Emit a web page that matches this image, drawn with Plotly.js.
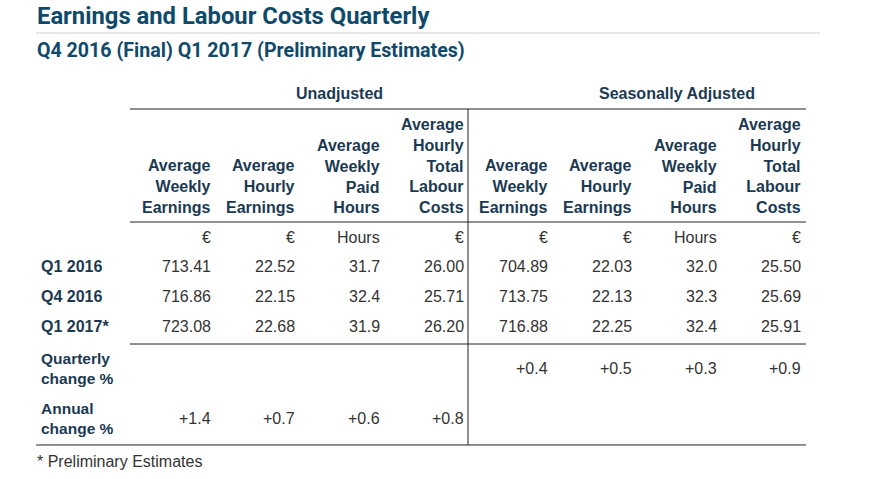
<!DOCTYPE html>
<html><head><meta charset="utf-8">
<script src="https://cdn.plot.ly/plotly-3.0.1.min.js"></script>
<style>html,body{margin:0;padding:0;background:#fff}#chart{width:877px;height:479px}</style>
</head><body><div id="chart"></div>
<script>
// ---- data ----
const title = 'Earnings and Labour Costs Quarterly';
const subtitle = 'Q4 2016 (Final) Q1 2017 (Preliminary Estimates)';
const groups = ['Unadjusted', 'Seasonally Adjusted'];
const measures = ['Average<br>Weekly<br>Earnings', 'Average<br>Hourly<br>Earnings', 'Average<br>Weekly<br>Paid<br>Hours', 'Average<br>Hourly<br>Total<br>Labour<br>Costs'];
const units = ['€', '€', 'Hours', '€'];
const decimals = [2, 2, 1, 2];
const periods = ['Q1 2016', 'Q4 2016', 'Q1 2017*'];
const unadjWeeklyEarnings = [713.41, 716.86, 723.08];
const unadjHourlyEarnings = [22.52, 22.15, 22.68];
const unadjWeeklyHours = [31.7, 32.4, 31.9];
const unadjLabourCosts = [26.00, 25.71, 26.20];
const saWeeklyEarnings = [704.89, 713.75, 716.88];
const saHourlyEarnings = [22.03, 22.13, 22.25];
const saWeeklyHours = [32.0, 32.3, 32.4];
const saLabourCosts = [25.50, 25.69, 25.91];
const changeLabels = ['Quarterly<br>change %', 'Annual<br>change %'];
const saQuarterlyChange = [0.4, 0.5, 0.3, 0.9];
const unadjAnnualChange = [1.4, 0.7, 0.6, 0.8];
const footnote = '* Preliminary Estimates';

// ---- layout / styling ----
const navy = '#0f4a6b', dark = '#1b3a52', grey = '#333333';
const tblFont = '"Liberation Sans", Arial, sans-serif';
const ttlFont = 'Roboto, "Liberation Sans", sans-serif';
const unadjCols = [unadjWeeklyEarnings, unadjHourlyEarnings, unadjWeeklyHours, unadjLabourCosts];
const saCols = [saWeeklyEarnings, saHourlyEarnings, saWeeklyHours, saLabourCosts];
const labelX = -0.065, firstCol = 2;      // column positions on x axis
const unitsRow = 0, firstRow = 1;         // row positions on y axis
const qRow = 4.38, aRow = 6.05;
const headerBottom = -0.63, groupY = -4.8;
const ruleTop = -4.267, ruleHead = -0.5, ruleBody = 3.567, ruleBottom = 6.933;
const tableL = 1.0154, tableR = 9.034, outerL = -0.0996, splitX = 5.025;

const ann = [];
const fmt = (v, d) => v.toFixed(d);
const sgn = v => (v >= 0 ? '+' : '') + v.toFixed(1);
const bold = (size) => ({family: tblFont, size: size, color: dark, weight: 700});
function cell(x, y, text, opts) {
  ann.push(Object.assign({xref: 'x', yref: 'y', x: x, y: y, text: text, showarrow: false,
    xanchor: 'right', yanchor: 'middle', align: 'right',
    font: {family: tblFont, size: 16, color: grey, weight: 400}}, opts || {}));
}
// group headers
groups.forEach((g, gi) => {
  const c0 = firstCol + gi * 4;
  cell(c0 + 1.5, groupY, g, {xanchor: 'center', align: 'center', font: bold(16)});
});
// measure headers + units
[0, 1].forEach(gi => {
  measures.forEach((m, mi) => {
    const x = firstCol + gi * 4 + mi;
    cell(x, headerBottom, m, {yanchor: 'bottom', font: bold(16)});
    cell(x, unitsRow, units[mi]);
  });
});
// period rows
periods.forEach((p, ri) => {
  const y = firstRow + ri;
  cell(labelX, y, p, {xanchor: 'left', align: 'left', font: bold(16)});
  unadjCols.forEach((col, ci) => cell(firstCol + ci, y, fmt(col[ri], decimals[ci])));
  saCols.forEach((col, ci) => cell(firstCol + 4 + ci, y, fmt(col[ri], decimals[ci])));
});
// change rows
cell(labelX, qRow, changeLabels[0], {xanchor: 'left', align: 'left', font: bold(15.5)});
cell(labelX, aRow, changeLabels[1], {xanchor: 'left', align: 'left', font: bold(15.5)});
saQuarterlyChange.forEach((v, ci) => cell(firstCol + 4 + ci, qRow, sgn(v)));
unadjAnnualChange.forEach((v, ci) => cell(firstCol + ci, aRow, sgn(v)));

// titles
ann.push({xref: 'paper', yref: 'paper', x: 35 / 877, y: 1 - 16 / 479, xanchor: 'left', yanchor: 'middle', showarrow: false,
  text: title, font: {family: ttlFont, size: 23.8, color: navy, weight: 700}});
ann.push({xref: 'paper', yref: 'paper', x: 35 / 877, y: 1 - 50 / 479, xanchor: 'left', yanchor: 'middle', showarrow: false,
  text: subtitle, font: {family: ttlFont, size: 19.6, color: navy, weight: 700}});
ann.push({xref: 'paper', yref: 'paper', x: 35 / 877, y: 1 - 461 / 479, xanchor: 'left', yanchor: 'middle', showarrow: false,
  text: footnote, font: {family: tblFont, size: 16, color: grey, weight: 400}});

const line = (x0, y0, x1, y1, c, w) => ({type: 'line', xref: 'x', yref: 'y', x0, y0, x1, y1, line: {color: c, width: w}});
const shapes = [
  {type: 'line', xref: 'paper', yref: 'paper', x0: 36 / 877, x1: 820 / 877, y0: 1 - 33 / 479, y1: 1 - 33 / 479, line: {color: '#d0d0d0', width: 1}},
  line(tableL, ruleTop, tableR, ruleTop, '#222', 1),
  line(tableL, ruleHead, tableR, ruleHead, '#222', 1),
  line(tableL, ruleBody, tableR, ruleBody, '#222', 1),
  line(outerL, ruleBottom, tableR, ruleBottom, '#222', 1),
  line(splitX, ruleTop, splitX, ruleBottom, '#222', 1)
];

const axisBase = {showgrid: false, zeroline: false, showticklabels: false, showline: false, ticks: '', fixedrange: true};
const layout = {
  width: 877, height: 479, margin: {l: 0, r: 0, t: 0, b: 0},
  paper_bgcolor: '#fff', plot_bgcolor: '#fff', showlegend: false,
  xaxis: Object.assign({range: [-0.5267, 9.877]}, axisBase),
  yaxis: Object.assign({range: [8.067, -7.9]}, axisBase),
  annotations: ann, shapes: shapes
};
Plotly.newPlot('chart', [{type: 'scatter', x: [], y: [], mode: 'markers', hoverinfo: 'skip'}], layout, {staticPlot: true});
</script></body></html>
